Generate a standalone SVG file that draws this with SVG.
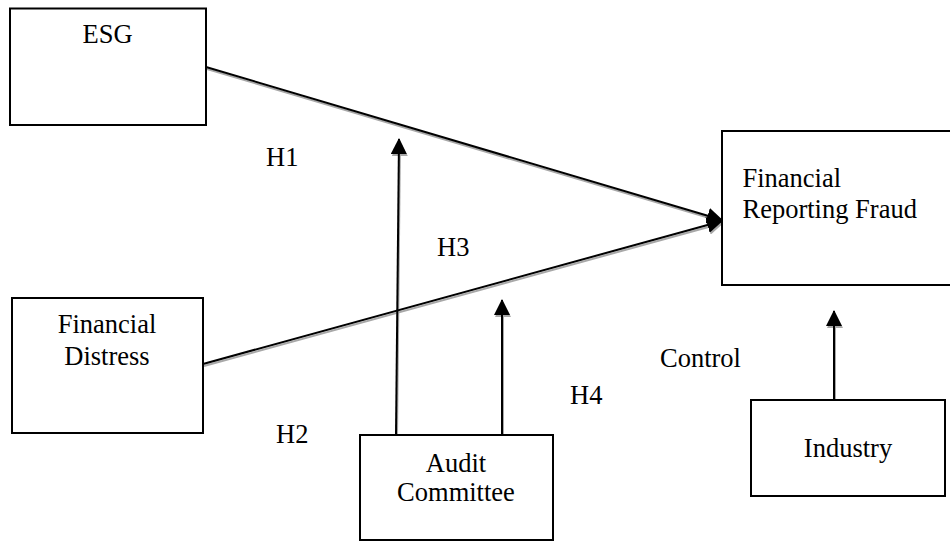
<svg xmlns="http://www.w3.org/2000/svg" width="950" height="541" viewBox="0 0 950 541">
<style>
.box{fill:#fff;stroke:#000;stroke-width:2}
.t{font-family:"Liberation Serif","Times New Roman",serif;font-size:26.5px;fill:#000}
.c{text-anchor:middle}
.ln{stroke:#000;stroke-width:2;fill:none}
.sh{stroke:#a8a8a8;stroke-width:2;fill:none}
</style>
<defs>
<marker id="ah" markerUnits="userSpaceOnUse" markerWidth="16" markerHeight="16" viewBox="0 0 16 16" refX="15" refY="8" orient="auto">
<path d="M0,0 L16,8 L0,16 Z" fill="#000"/>
</marker>
<marker id="ahs" markerUnits="userSpaceOnUse" markerWidth="16" markerHeight="16" viewBox="0 0 16 16" refX="15" refY="8" orient="auto">
<path d="M0,0 L16,8 L0,16 Z" fill="#a8a8a8"/>
</marker>
</defs>
<g id="connectors">
<g transform="translate(1,2)">
<line class="sh" x1="206" y1="67" x2="722" y2="220" marker-end="url(#ahs)"/>
<line class="sh" x1="203" y1="364" x2="722" y2="221" marker-end="url(#ahs)"/>
<line class="sh" x1="396" y1="435" x2="399" y2="139" marker-end="url(#ahs)"/>
<line class="sh" x1="502" y1="435" x2="502" y2="300" marker-end="url(#ahs)"/>
<line class="sh" x1="834" y1="400" x2="834" y2="311" marker-end="url(#ahs)"/>
</g>
<line class="ln" x1="206" y1="67" x2="722" y2="220" marker-end="url(#ah)"/>
<line class="ln" x1="203" y1="364" x2="722" y2="221" marker-end="url(#ah)"/>
<line class="ln" x1="396" y1="435" x2="399" y2="139" marker-end="url(#ah)"/>
<line class="ln" x1="502" y1="435" x2="502" y2="300" marker-end="url(#ah)"/>
<line class="ln" x1="834" y1="400" x2="834" y2="311" marker-end="url(#ah)"/>
</g>
<g id="esg">
<rect class="box" x="10" y="8.5" width="196" height="116.5"/>
<text class="t c" x="107.5" y="43">ESG</text>
</g>
<g id="distress">
<rect class="box" x="12" y="298" width="191" height="135"/>
<text class="t c" x="107" y="333">Financial</text>
<text class="t c" x="107" y="365">Distress</text>
</g>
<g id="frf">
<rect class="box" x="722" y="131" width="240" height="154"/>
<text class="t" x="742.5" y="187">Financial</text>
<text class="t" x="742.5" y="218">Reporting Fraud</text>
</g>
<g id="audit">
<rect class="box" x="360" y="435" width="193" height="105"/>
<text class="t c" x="456" y="472">Audit</text>
<text class="t c" x="456" y="501">Committee</text>
</g>
<g id="industry">
<rect class="box" x="751" y="400" width="194" height="96"/>
<text class="t c" x="848" y="457">Industry</text>
</g>
<g id="labels">
<text class="t" x="266" y="166">H1</text>
<text class="t" x="437" y="256">H3</text>
<text class="t" x="276" y="443">H2</text>
<text class="t" x="570" y="404">H4</text>
<text class="t" x="660" y="367">Control</text>
</g>
</svg>
